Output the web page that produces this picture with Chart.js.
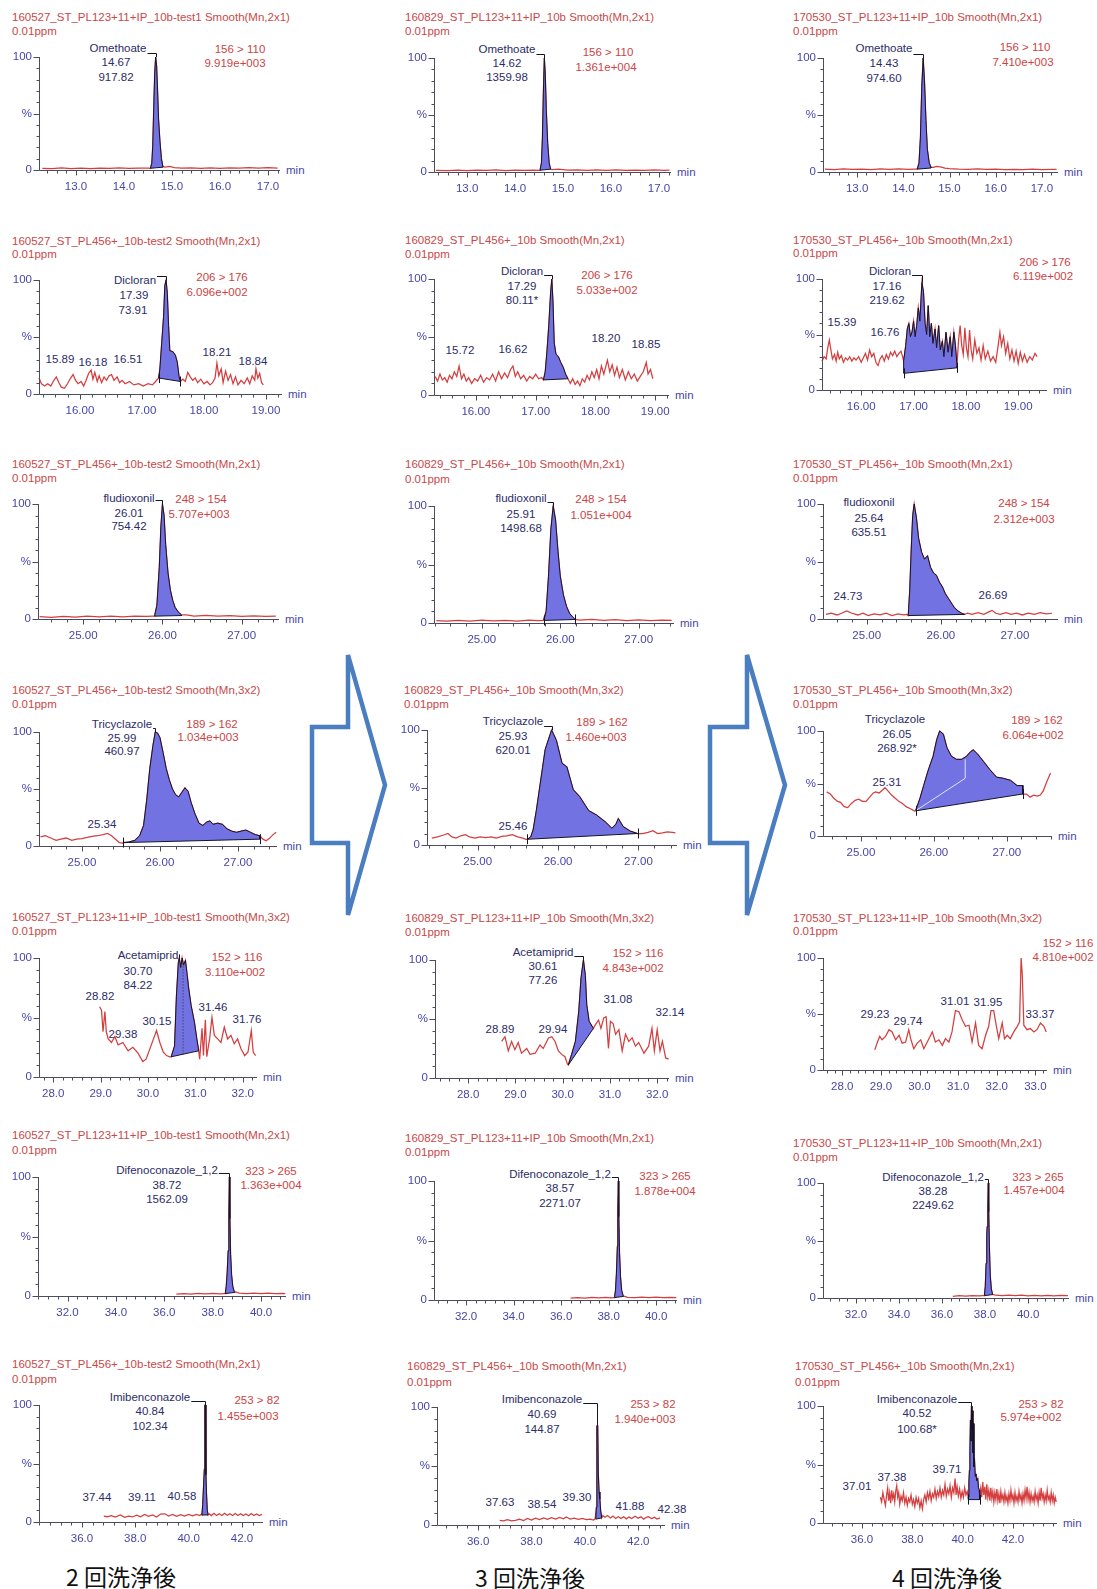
<!DOCTYPE html>
<html><head><meta charset="utf-8">
<script src="https://cdn.jsdelivr.net/npm/chart.js@4/dist/chart.umd.min.js"></script>
<style>
body{margin:0;background:#fff;width:1097px;height:1589px;position:relative;overflow:hidden;font-family:"Liberation Sans",Arial,sans-serif;}
.t{position:absolute;white-space:nowrap;font-size:11.5px;line-height:1;}
.title{color:#c94848;transform:translateY(-50%);}
.ann{color:#2c2c66;transform:translate(-50%,-50%);}
.red{color:#cc4444;transform:translate(-50%,-50%);}
.min{color:#4646a6;transform:translateY(-50%);}
canvas{position:absolute;}
.jp{position:absolute;font-family:"Noto Sans CJK JP",sans-serif;font-size:23px;color:#111;transform:translate(-50%,-50%);white-space:nowrap;line-height:1;}
svg{position:absolute;left:0;top:0;}
</style></head><body>
<svg width="1097" height="1589">
<polygon points="312,727 348,727 348,655 385,785 348,915 348,843 312,843" fill="#fff" stroke="#4a7ec1" stroke-width="4.5" stroke-linejoin="miter"/>
<polygon points="710,727 747,727 747,655 785,785 747,915 747,843 710,843" fill="#fff" stroke="#4a7ec1" stroke-width="4.5" stroke-linejoin="miter"/>
</svg>
<script>
// ---------- DATA (time in min, intensity in %) ----------
const r1c1Pre = [[12.3,1.5],[12.5,1.2],[12.7,1.8],[12.9,1.3],[13.1,1.6],[13.3,1.2],[13.5,1.7],[13.7,1.4],[13.9,1.8],[14.1,1.5],[14.3,1.7],[14.5,1.6]];
const r1c1Curve = [[14.55,1.5],[14.58,6],[14.6,22],[14.62,55],[14.64,85],[14.66,100],[14.68,92],[14.7,70],[14.72,45],[14.75,25],[14.78,10],[14.81,3]];
const r1c1Base = [[14.55,1.5],[14.81,2.5]];
const r1c1Post = [[14.86,2.5],[14.95,3.2],[15.05,2.2],[15.2,1.6],[15.4,1.9],[15.6,1.4],[15.8,1.8],[16.0,1.5],[16.2,1.9],[16.4,1.6],[16.6,2.2],[16.8,1.7],[17.0,2.0],[17.2,1.6]];

const r1c2Pre = [[12.35,1.5],[12.6,1.2],[12.8,1.6],[13.0,1.3],[13.2,1.7],[13.4,1.4],[13.6,1.8],[13.8,1.3],[14.0,1.6],[14.2,1.4],[14.4,1.7],[14.48,1.5]];
const r1c2Curve = [[14.52,1.5],[14.55,8],[14.57,30],[14.59,70],[14.61,100],[14.63,85],[14.65,55],[14.68,25],[14.71,8],[14.74,2.5]];
const r1c2Base = [[14.52,1.5],[14.74,2.5]];
const r1c2Post = [[14.78,2],[14.9,2.5],[15.1,1.6],[15.3,1.9],[15.5,1.4],[15.7,1.8],[15.9,1.5],[16.1,1.9],[16.3,1.4],[16.5,1.7],[16.7,1.5],[16.9,1.8],[17.1,1.5],[17.22,1.7]];

const r1c3Pre = [[12.3,2.5],[12.5,2],[12.7,2.8],[12.9,2.2],[13.1,2.6],[13.3,2.1],[13.5,2.7],[13.7,2.3],[13.9,2.8],[14.1,2.4],[14.25,2.6]];
const r1c3Curve = [[14.3,2.5],[14.34,8],[14.37,30],[14.4,75],[14.43,100],[14.46,78],[14.49,45],[14.52,20],[14.56,8],[14.6,4]];
const r1c3Base = [[14.3,2.5],[14.6,3.5]];
const r1c3Post = [[14.65,4],[14.72,5],[14.8,4.5],[14.9,3.5],[15.0,3],[15.2,2.5],[15.4,2.2],[15.6,2.7],[15.8,2.2],[16.0,2.5],[16.2,2],[16.4,2.4],[16.6,2.1],[16.8,2.5],[17.0,2.1],[17.2,2.4],[17.32,2.2]];

const r2c1Pre = [[15.34,14],[15.38,9],[15.43,7],[15.48,9],[15.53,7],[15.58,12],[15.62,15],[15.66,10],[15.7,6],[15.75,5],[15.8,9],[15.85,14],[15.89,17],[15.93,12],[15.97,9],[16.02,11],[16.06,7],[16.1,12],[16.14,18],[16.18,21],[16.21,13],[16.24,19],[16.28,11],[16.31,16],[16.35,10],[16.39,15],[16.43,12],[16.47,16],[16.51,17],[16.55,12],[16.6,15],[16.64,10],[16.68,12],[16.73,9],[16.8,11],[16.87,8],[16.95,9],[17.02,7],[17.1,9],[17.17,8],[17.22,11]];
const r2c1Curve = [[17.27,14],[17.29,22],[17.32,45],[17.35,68],[17.37,95],[17.39,100],[17.41,88],[17.43,60],[17.45,38],[17.5,37],[17.54,34],[17.57,28],[17.6,15],[17.62,11]];
const r2c1Base = [[17.27,14],[17.62,11]];
const r2c1Post = [[17.66,13],[17.7,11],[17.74,19],[17.78,15],[17.82,12],[17.86,14],[17.9,10],[17.95,13],[18.0,9],[18.05,11],[18.1,8],[18.14,10],[18.18,14],[18.21,27],[18.24,16],[18.28,22],[18.31,10],[18.35,20],[18.39,12],[18.43,17],[18.47,9],[18.51,15],[18.55,8],[18.6,12],[18.65,9],[18.7,14],[18.74,9],[18.78,16],[18.82,12],[18.84,22],[18.87,14],[18.9,18],[18.93,10],[18.96,8]];

const r2c2Pre = [[15.32,16],[15.36,12],[15.4,18],[15.44,13],[15.48,15],[15.52,11],[15.56,17],[15.6,14],[15.64,20],[15.68,16],[15.72,25],[15.76,14],[15.8,18],[15.84,12],[15.88,15],[15.93,10],[15.98,14],[16.03,12],[16.08,17],[16.13,11],[16.18,15],[16.23,13],[16.28,18],[16.33,12],[16.38,20],[16.43,14],[16.48,19],[16.53,15],[16.58,22],[16.62,25],[16.66,16],[16.7,20],[16.75,14],[16.8,17],[16.85,12],[16.9,16],[16.95,14],[17.0,18],[17.05,14],[17.1,15]];
const r2c2Curve = [[17.13,13],[17.16,20],[17.19,38],[17.22,60],[17.25,88],[17.27,100],[17.29,80],[17.31,45],[17.34,35],[17.38,33],[17.42,28],[17.46,24],[17.5,18],[17.54,14]];
const r2c2Base = [[17.13,13],[17.54,14]];
const r2c2Post = [[17.58,10],[17.62,14],[17.66,9],[17.7,12],[17.74,8],[17.78,14],[17.82,11],[17.86,17],[17.9,13],[17.94,20],[17.98,15],[18.02,22],[18.06,14],[18.1,25],[18.14,18],[18.2,30],[18.24,20],[18.28,26],[18.32,17],[18.36,24],[18.4,15],[18.45,22],[18.5,13],[18.55,20],[18.6,14],[18.65,18],[18.7,12],[18.75,16],[18.8,20],[18.85,28],[18.88,18],[18.92,22],[18.96,14]];

const r2c3Pre = [[15.25,26],[15.29,30],[15.33,28],[15.36,38],[15.39,45],[15.42,36],[15.45,28],[15.49,32],[15.52,26],[15.55,34],[15.58,28],[15.62,31],[15.66,25],[15.7,29],[15.74,27],[15.78,30],[15.82,26],[15.86,29],[15.9,27],[15.95,30],[16.0,25],[16.04,29],[16.08,33],[16.12,27],[16.16,36],[16.2,30],[16.24,33],[16.28,25],[16.32,22],[16.36,28],[16.4,31],[16.44,26],[16.48,32],[16.52,28],[16.56,34],[16.6,31],[16.64,35],[16.68,30],[16.72,33],[16.76,35],[16.79,30]];
const r2c3Curve = [[16.81,26],[16.85,40],[16.88,55],[16.91,60],[16.94,48],[16.97,52],[17.0,62],[17.03,48],[17.06,58],[17.09,74],[17.12,62],[17.16,97],[17.19,88],[17.22,60],[17.25,50],[17.28,76],[17.31,48],[17.34,60],[17.37,42],[17.41,55],[17.44,38],[17.48,58],[17.51,36],[17.55,44],[17.58,30],[17.62,52],[17.66,34],[17.7,48],[17.73,30],[17.77,52],[17.8,40],[17.83,22]];
const r2c3Base = [[16.81,15],[17.83,20]];
const r2c3Post = [[17.86,45],[17.89,58],[17.92,40],[17.95,32],[17.98,56],[18.01,38],[18.04,30],[18.07,54],[18.1,36],[18.13,28],[18.17,45],[18.21,33],[18.25,38],[18.29,27],[18.33,40],[18.37,28],[18.42,35],[18.47,26],[18.52,30],[18.57,25],[18.61,38],[18.65,52],[18.68,40],[18.72,48],[18.76,33],[18.8,42],[18.84,28],[18.88,36],[18.92,26],[18.96,35],[19.0,24],[19.04,34],[19.08,26],[19.12,32],[19.17,25],[19.22,30],[19.27,27],[19.32,33],[19.36,30]];

const r3c1Pre = [[24.45,2],[24.6,1.5],[24.75,2.2],[24.9,1.6],[25.05,2.4],[25.2,1.8],[25.35,2.5],[25.5,1.9],[25.65,2.6],[25.8,2.2],[25.88,2.5]];
const r3c1Curve = [[25.9,2.5],[25.93,12],[25.96,45],[25.98,80],[26.0,100],[26.02,90],[26.04,65],[26.07,40],[26.1,25],[26.13,16],[26.16,10],[26.2,6],[26.24,3.5]];
const r3c1Base = [[25.9,2.5],[26.24,3]];
const r3c1Post = [[26.3,3.5],[26.4,2.6],[26.55,3.2],[26.7,2.4],[26.85,3.0],[27.0,2.3],[27.15,2.8],[27.3,2.2],[27.43,2.6]];

const r3c2Pre = [[24.42,2],[24.55,1.6],[24.7,2.3],[24.85,1.7],[25.0,2.4],[25.15,1.8],[25.3,2.2],[25.45,1.7],[25.6,2.4],[25.72,2.0],[25.78,2.2]];
const r3c2Curve = [[25.79,2.2],[25.82,10],[25.85,40],[25.88,80],[25.91,100],[25.94,88],[25.97,62],[26.0,40],[26.04,24],[26.08,14],[26.12,8],[26.16,5],[26.19,3]];
const r3c2Base = [[25.79,2.2],[26.19,3]];
const r3c2Post = [[26.25,2.4],[26.4,3.0],[26.55,2.2],[26.7,2.8],[26.85,2.1],[27.0,2.6],[27.15,2.0],[27.3,2.5],[27.42,2.2]];

const r3c3Pre = [[24.45,4],[24.52,5],[24.6,3.5],[24.66,5],[24.73,7],[24.8,5],[24.88,3.5],[24.95,5],[25.02,3],[25.1,4.5],[25.18,3.5],[25.26,5],[25.34,3],[25.42,4.5],[25.5,3.5],[25.54,4]];
const r3c3Curve = [[25.56,3],[25.58,25],[25.6,60],[25.62,90],[25.64,100],[25.67,88],[25.7,70],[25.74,58],[25.78,52],[25.82,55],[25.86,45],[25.9,40],[25.94,38],[25.98,32],[26.02,28],[26.06,22],[26.1,18],[26.14,14],[26.18,10],[26.23,7],[26.28,5],[26.32,4]];
const r3c3Base = [[25.56,3],[26.32,4]];
const r3c3Post = [[26.36,5],[26.42,4],[26.5,5.5],[26.58,4],[26.64,6],[26.69,7.5],[26.74,5],[26.8,4],[26.88,5.5],[26.95,4],[27.02,5],[27.1,3.5],[27.18,5],[27.26,4],[27.34,5.5],[27.42,4.5],[27.5,5]];

const r4c1Pre = [[24.47,8],[24.53,9],[24.6,7],[24.67,5],[24.73,6],[24.8,7],[24.87,5],[24.93,6],[25.0,6.5],[25.07,7.5],[25.13,8.5],[25.2,9],[25.27,10],[25.33,11],[25.38,9],[25.43,6],[25.48,3],[25.52,2.5]];
const r4c1Curve = [[25.53,3],[25.6,3.5],[25.68,5],[25.74,9],[25.79,18],[25.83,40],[25.87,68],[25.91,88],[25.94,100],[25.97,99],[26.0,95],[26.04,82],[26.08,68],[26.12,58],[26.16,50],[26.2,45],[26.24,43],[26.28,47],[26.32,51],[26.36,48],[26.4,38],[26.45,28],[26.5,20],[26.55,18],[26.6,21],[26.64,22],[26.68,19],[26.74,20],[26.8,19],[26.86,15],[26.92,13],[26.98,12],[27.04,13],[27.1,14],[27.16,12],[27.22,10],[27.28,9]];
const r4c1Base = [[25.53,3],[27.28,6]];
const r4c1Post = [[27.32,6],[27.36,4.5],[27.4,6.5],[27.45,10],[27.49,12]];

const r4c2Pre = [[24.43,6],[24.5,7],[24.57,8.5],[24.63,10],[24.68,7],[24.73,6],[24.79,8],[24.85,9],[24.9,7],[24.97,6],[25.03,7],[25.1,6.5],[25.17,7],[25.23,6],[25.3,7.5],[25.36,8],[25.43,9],[25.5,7],[25.56,6],[25.6,5]];
const r4c2Curve = [[25.62,5],[25.66,7],[25.69,13],[25.73,30],[25.78,54],[25.84,83],[25.92,100],[25.98,91],[26.05,71],[26.11,68],[26.19,48],[26.27,42],[26.38,30],[26.48,26],[26.59,20],[26.67,14.5],[26.72,18],[26.75,23],[26.81,16],[26.9,12],[26.99,10]];
const r4c2Base = [[25.62,5],[26.99,10]];
const r4c2Post = [[27.05,10],[27.12,11],[27.18,12.5],[27.24,10],[27.3,10.5],[27.36,11.5],[27.42,11],[27.46,10.5]];

const r4c3Pre = [[24.53,42],[24.58,40],[24.63,36],[24.68,33],[24.72,32],[24.77,28],[24.82,27],[24.87,31],[24.92,34],[24.97,35],[25.02,33],[25.07,33],[25.12,37],[25.17,41],[25.2,42],[25.25,41],[25.3,44],[25.33,46],[25.37,43],[25.42,39],[25.47,36],[25.52,33],[25.57,31],[25.62,28],[25.68,26],[25.73,24]];
const r4c3Curve = [[25.75,24],[25.81,36],[25.86,48],[25.92,62],[25.99,76],[26.04,92],[26.08,100],[26.13,97],[26.18,84],[26.24,76],[26.31,73],[26.38,73],[26.45,76],[26.5,80],[26.54,82],[26.6,78],[26.68,71],[26.77,63],[26.86,56],[26.95,55],[27.05,53],[27.14,48],[27.22,48]];
const r4c3Base = [[25.75,24],[27.22,40]];
const r4c3Post = [[27.22,40],[27.27,40],[27.32,37],[27.37,39],[27.42,38],[27.46,39],[27.5,43],[27.55,52],[27.6,60]];
const r4c3Split = [[25.75,24],[26.43,55],[26.43,73]];

const r5c1Pre = [[28.98,59],[29.02,56],[29.05,38],[29.09,55],[29.12,38],[29.16,32],[29.23,29],[29.3,34],[29.37,27],[29.47,29],[29.58,22],[29.68,25],[29.79,20],[29.89,13],[29.96,15],[30.07,27],[30.18,39],[30.25,29],[30.32,21],[30.39,18],[30.46,17]];
const r5c1Curve = [[30.49,17],[30.56,26],[30.6,68],[30.64,96],[30.66,100],[30.69,92],[30.72,100],[30.75,94],[30.79,98],[30.82,88],[30.86,74],[30.91,60],[30.98,46],[31.03,32],[31.07,22]];
const r5c1Base = [[30.49,17],[31.07,22]];
const r5c1Post = [[31.09,15],[31.14,41],[31.17,18],[31.21,48],[31.24,17],[31.3,32],[31.35,50],[31.4,35],[31.47,32],[31.54,29],[31.61,42],[31.68,32],[31.75,35],[31.82,28],[31.89,32],[31.96,24],[32.04,18],[32.11,21],[32.18,39],[32.22,21],[32.27,18]];
const r5c1Split = [[30.74,19],[30.74,97]];

const r5c2Pre = [[28.71,31],[28.78,35],[28.85,23],[28.92,31],[28.99,24],[29.06,30],[29.13,21],[29.24,25],[29.31,20],[29.42,21],[29.52,28],[29.59,25],[29.7,34],[29.77,35],[29.84,31],[29.91,23],[29.98,20],[30.05,18],[30.1,12]];
const r5c2Curve = [[30.12,11],[30.19,20],[30.27,31],[30.34,56],[30.39,85],[30.44,100],[30.48,87],[30.51,62],[30.56,48],[30.62,44],[30.65,42]];
const r5c2Base = [[30.12,11],[30.65,42]];
const r5c2Post = [[30.69,45],[30.76,49],[30.81,42],[30.87,51],[30.92,52],[30.97,25],[31.01,48],[31.07,46],[31.12,37],[31.19,41],[31.26,23],[31.33,37],[31.4,31],[31.47,34],[31.54,27],[31.61,30],[31.72,21],[31.82,27],[31.89,42],[31.94,23],[32.0,41],[32.06,23],[32.11,31],[32.18,17],[32.24,16]];

const r5c3Trace = [[28.84,18],[28.91,25],[28.97,30],[29.03,27],[29.12,30],[29.21,36],[29.29,34],[29.38,27],[29.47,31],[29.55,24],[29.64,25],[29.72,36],[29.77,28],[29.85,19],[29.94,24],[30.03,27],[30.11,19],[30.2,25],[30.33,34],[30.41,25],[30.5,27],[30.59,22],[30.67,28],[30.76,25],[30.84,34],[30.93,53],[31.02,52],[31.1,45],[31.19,39],[31.28,40],[31.36,25],[31.45,42],[31.53,22],[31.62,19],[31.71,31],[31.79,39],[31.85,53],[31.92,53],[31.99,39],[32.05,28],[32.14,42],[32.2,28],[32.27,31],[32.35,28],[32.44,34],[32.53,39],[32.59,43],[32.63,100],[32.66,85],[32.7,40],[32.78,36],[32.87,37],[32.96,34],[33.04,36],[33.13,42],[33.22,39],[33.28,34]];

const r6c1Pre = [[36.5,1.5],[36.8,2],[37.1,1.6],[37.4,2.1],[37.7,1.7],[38.0,2.2],[38.3,1.8],[38.48,2]];
const r6c1Curve = [[38.52,2],[38.56,8],[38.6,20],[38.64,38],[38.67,70],[38.69,100],[38.71,65],[38.74,35],[38.78,18],[38.83,8],[38.9,3]];
const r6c1Base = [[38.52,2],[38.9,3]];
const r6c1Post = [[38.95,3.5],[39.1,2.4],[39.4,2],[39.7,2.5],[40.0,2],[40.3,2.4],[40.6,1.9],[40.9,2.3],[41.0,2]];

const r6c2Pre = [[36.4,1.5],[36.7,2],[37.0,1.6],[37.3,2.1],[37.6,1.7],[37.9,2.2],[38.1,1.8],[38.22,2]];
const r6c2Curve = [[38.25,2],[38.29,8],[38.33,22],[38.37,45],[38.39,75],[38.41,100],[38.43,70],[38.46,40],[38.5,20],[38.55,8],[38.62,3]];
const r6c2Base = [[38.25,2],[38.62,3]];
const r6c2Post = [[38.68,3],[38.8,2.3],[39.1,2],[39.4,2.5],[39.7,2],[40.0,2.4],[40.3,1.9],[40.6,2.3],[40.85,2]];

const r6c3Pre = [[36.5,1.5],[36.8,2],[37.1,1.6],[37.4,2.1],[37.7,1.8],[37.9,2.1],[37.94,2]];
const r6c3Curve = [[37.97,2],[38.01,10],[38.05,30],[38.08,55],[38.1,62],[38.13,80],[38.15,100],[38.17,75],[38.2,45],[38.24,20],[38.29,8],[38.35,3]];
const r6c3Base = [[37.97,2],[38.35,3]];
const r6c3Post = [[38.4,3],[38.5,2.4],[38.8,2],[39.1,2.5],[39.4,2],[39.7,2.4],[40.0,1.9],[40.3,2.3],[40.6,1.8],[40.9,2.3],[41.2,1.9],[41.5,2.2],[41.85,2]];

const r7c1Pre = [[36.82,5],[36.95,4.5],[37.1,5.5],[37.25,4.2],[37.44,6],[37.6,4],[37.75,5],[37.9,4.3],[38.05,5.8],[38.2,4.5],[38.35,6.5],[38.5,4.8],[38.65,6],[38.8,4.2],[38.95,6.8],[39.11,7],[39.25,5],[39.4,6.5],[39.55,4.8],[39.7,6.2],[39.85,5],[40.0,6.5],[40.15,5.2],[40.3,6.5],[40.42,5.5],[40.47,6.5]];
const r7c1Curve = [[40.5,6],[40.53,15],[40.56,30],[40.59,45],[40.61,100],[40.63,100],[40.65,40],[40.67,25],[40.7,10],[40.73,6]];
const r7c1Base = [[40.5,6],[40.73,6]];
const r7c1Post = [[40.78,7],[40.85,5.5],[40.95,7.5],[41.05,5.5],[41.15,7],[41.25,5.5],[41.35,7.5],[41.45,5.8],[41.55,7],[41.65,5.5],[41.75,7.2],[41.85,5.6],[41.95,7],[42.05,5.5],[42.15,6.8],[42.25,5.4],[42.35,7.2],[42.45,5.6],[42.55,6.8],[42.65,5.5],[42.75,6.5]];

const r7c2Pre = [[36.81,4],[36.95,3.5],[37.1,4.5],[37.25,3.5],[37.4,4],[37.55,5],[37.7,3.8],[37.85,5.5],[38.0,4.2],[38.15,5.8],[38.3,4.5],[38.45,6],[38.6,4.8],[38.75,6.2],[38.9,5],[39.05,6.5],[39.2,5.2],[39.3,6.8],[39.45,5],[39.6,5.8],[39.75,4.8],[39.9,5.5],[40.05,4.5],[40.2,5],[40.32,4.2],[40.38,5]];
const r7c2Curve = [[40.41,5],[40.43,15],[40.45,84],[40.48,84],[40.5,45],[40.53,28],[40.56,22],[40.59,12],[40.63,6]];
const r7c2Base = [[40.41,5],[40.63,6]];
const r7c2Post = [[40.67,8],[40.75,6.5],[40.85,8],[40.95,6],[41.05,7.5],[41.15,5.5],[41.25,7],[41.35,5.5],[41.45,7],[41.55,5.2],[41.65,6.8],[41.75,5.5],[41.88,7.5],[42.0,5.8],[42.1,7],[42.2,5],[42.3,6.5],[42.38,7],[42.5,5.5],[42.6,6.5],[42.7,5],[42.81,6]];

const r7c3Pre = [[36.73,22],[36.78,18],[36.83,26],[36.88,20],[36.93,15],[36.98,24],[37.02,30],[37.06,19],[37.1,26],[37.14,17],[37.18,28],[37.22,21],[37.26,25],[37.3,18],[37.34,27],[37.38,32],[37.42,22],[37.46,26],[37.5,16],[37.55,23],[37.6,19],[37.65,26],[37.7,17],[37.75,22],[37.8,15],[37.85,21],[37.9,18],[37.95,24],[38.0,16],[38.05,20],[38.1,14],[38.15,22],[38.2,17],[38.25,21],[38.3,13],[38.35,19],[38.4,12],[38.45,20],[38.5,24],[38.55,18],[38.6,26],[38.65,21],[38.7,27],[38.75,19],[38.8,25],[38.85,22],[38.9,29],[38.95,21],[39.0,27],[39.05,23],[39.1,30],[39.15,22],[39.2,28],[39.25,24],[39.3,33],[39.35,23],[39.4,29],[39.45,25],[39.5,32],[39.55,22],[39.6,30],[39.65,26],[39.7,38],[39.74,24],[39.78,31],[39.83,23],[39.88,29],[39.93,21],[39.98,27],[40.03,22],[40.08,30],[40.13,24],[40.18,27]];
const r7c3Curve = [[40.22,22],[40.25,35],[40.27,45],[40.29,62],[40.31,88],[40.33,70],[40.35,100],[40.37,80],[40.39,96],[40.41,60],[40.43,85],[40.45,48],[40.47,55],[40.5,40],[40.53,42],[40.56,36],[40.6,38],[40.63,30],[40.66,28],[40.68,24]];
const r7c3Base = [[40.22,20],[40.68,20]];
const r7c3Post = [[40.72,30],[40.76,22],[40.8,35],[40.84,24],[40.88,31],[40.92,20],[40.96,33],[41.0,22],[41.04,28],[41.08,19],[41.12,30],[41.16,21],[41.2,27],[41.24,18],[41.28,26],[41.32,20],[41.36,29],[41.4,19],[41.44,25],[41.48,17],[41.52,27],[41.56,20],[41.6,24],[41.64,18],[41.68,26],[41.72,19],[41.76,23],[41.8,17],[41.84,25],[41.88,19],[41.92,28],[41.96,20],[42.0,24],[42.04,17],[42.08,26],[42.12,19],[42.16,23],[42.2,18],[42.24,27],[42.28,20],[42.32,24],[42.36,17],[42.4,25],[42.44,19],[42.48,28],[42.52,21],[42.56,31],[42.6,20],[42.64,26],[42.68,18],[42.72,25],[42.76,19],[42.8,23],[42.84,18],[42.88,27],[42.92,20],[42.96,24],[43.0,17],[43.04,26],[43.08,19],[43.12,30],[43.16,21],[43.2,25],[43.24,18],[43.28,24],[43.32,19],[43.36,28],[43.4,20],[43.44,23],[43.48,18],[43.52,26],[43.56,19],[43.6,24],[43.64,17],[43.68,22],[43.72,18]];

const bottomLabels = ['2 回洗浄後','3 回洗浄後','4 回洗浄後'];

// ---------- LAYOUT ----------
const panels = [
 {pre:r1c1Pre,curve:r1c1Curve,base:r1c1Base,post:r1c1Post,ax:39,top:57,bot:170,right:280,tMin:12.23,tMax:17.25,step:0.2,major:1,dec:1,
  title:'160527_ST_PL123+11+IP_10b-test1 Smooth(Mn,2x1)',tx:12,ty:18,py:32,lead:true,
  ann:[['Omethoate',118,49],['14.67',116,63],['917.82',116,78]],red:[['156 > 110',240,50],['9.919e+003',235,64]]},
 {pre:r1c2Pre,curve:r1c2Curve,base:r1c2Base,post:r1c2Post,ax:434,top:58,bot:172,right:671,tMin:12.31,tMax:17.25,step:0.2,major:1,dec:1,
  title:'160829_ST_PL123+11+IP_10b Smooth(Mn,2x1)',tx:405,ty:18,py:32,lead:true,
  ann:[['Omethoate',507,50],['14.62',507,64],['1359.98',507,78]],red:[['156 > 110',608,53],['1.361e+004',606,68]]},
 {pre:r1c3Pre,curve:r1c3Curve,base:r1c3Base,post:r1c3Post,ax:823,top:58,bot:172,right:1058,tMin:12.26,tMax:17.35,step:0.2,major:1,dec:1,
  title:'170530_ST_PL123+11+IP_10b Smooth(Mn,2x1)',tx:793,ty:18,py:32,lead:true,
  ann:[['Omethoate',884,49],['14.43',884,64],['974.60',884,79]],red:[['156 > 110',1025,48],['7.410e+003',1023,63]]},

 {pre:r2c1Pre,curve:r2c1Curve,base:r2c1Base,post:r2c1Post,ax:39,top:280,bot:394,right:282,tMin:15.34,tMax:19.26,step:0.2,major:1,dec:2,
  title:'160527_ST_PL456+_10b-test2 Smooth(Mn,2x1)',tx:12,ty:242,py:255,lead:true,ticks:true,
  ann:[['Dicloran',135,281],['17.39',134,296],['73.91',133,311],['15.89',60,360],['16.18',93,363],['16.51',128,360],['18.21',217,353],['18.84',253,362]],
  red:[['206 > 176',222,278],['6.096e+002',217,293]]},
 {pre:r2c2Pre,curve:r2c2Curve,base:r2c2Base,post:r2c2Post,ax:434,top:279,bot:395,right:669,tMin:15.3,tMax:19.23,step:0.2,major:1,dec:2,
  title:'160829_ST_PL456+_10b Smooth(Mn,2x1)',tx:405,ty:241,py:255,lead:true,
  ann:[['Dicloran',522,272],['17.29',522,287],['80.11*',522,301],['15.72',460,351],['16.62',513,350],['18.20',606,339],['18.85',646,345]],
  red:[['206 > 176',607,276],['5.033e+002',607,291]]},
 {pre:r2c3Pre,curve:r2c3Curve,base:r2c3Base,post:r2c3Post,ax:822,top:279,bot:390,right:1047,tMin:15.25,tMax:19.55,step:0.2,major:1,dec:2,
  title:'170530_ST_PL456+_10b Smooth(Mn,2x1)',tx:793,ty:241,py:254,lead:true,ticks:true,
  ann:[['Dicloran',890,272],['17.16',887,287],['219.62',887,301],['15.39',842,323],['16.76',885,333]],
  red:[['206 > 176',1045,263],['6.119e+002',1043,277]]},

 {pre:r3c1Pre,curve:r3c1Curve,base:r3c1Base,post:r3c1Post,ax:38,top:504,bot:619,right:279,tMin:24.43,tMax:27.47,step:0.2,major:1,dec:2,
  title:'160527_ST_PL456+_10b-test2 Smooth(Mn,2x1)',tx:12,ty:465,py:479,lead:true,
  ann:[['fludioxonil',129,499],['26.01',129,514],['754.42',129,527]],red:[['248 > 154',201,500],['5.707e+003',199,515]]},
 {pre:r3c2Pre,curve:r3c2Curve,base:r3c2Base,post:r3c2Post,ax:434,top:506,bot:623,right:674,tMin:24.39,tMax:27.45,step:0.2,major:1,dec:2,
  title:'160829_ST_PL456+_10b Smooth(Mn,2x1)',tx:405,ty:465,py:480,lead:true,ticks:true,
  ann:[['fludioxonil',521,499],['25.91',521,515],['1498.68',521,529]],red:[['248 > 154',601,500],['1.051e+004',601,516]]},
 {pre:r3c3Pre,curve:r3c3Curve,base:r3c3Base,post:r3c3Post,ax:823,top:504,bot:619,right:1058,tMin:24.41,tMax:27.58,step:0.2,major:1,dec:2,
  title:'170530_ST_PL456+_10b Smooth(Mn,2x1)',tx:793,ty:465,py:479,
  ann:[['fludioxonil',869,503],['25.64',869,519],['635.51',869,533],['24.73',848,597],['26.69',993,596]],
  red:[['248 > 154',1024,504],['2.312e+003',1024,520]]},

 {pre:r4c1Pre,curve:r4c1Curve,base:r4c1Base,post:r4c1Post,ax:39,top:732,bot:846,right:277,tMin:24.45,tMax:27.5,step:0.2,major:1,dec:2,
  title:'160527_ST_PL456+_10b-test2 Smooth(Mn,3x2)',tx:12,ty:691,py:705,lead:true,ticks:true,
  ann:[['Tricyclazole',122,725],['25.99',122,739],['460.97',122,752],['25.34',102,825]],red:[['189 > 162',212,725],['1.034e+003',208,738]]},
 {pre:r4c2Pre,curve:r4c2Curve,base:r4c2Base,post:r4c2Post,ax:427,top:730,bot:845,right:677,tMin:24.37,tMax:27.48,step:0.2,major:1,dec:2,
  title:'160829_ST_PL456+_10b Smooth(Mn,3x2)',tx:404,ty:691,py:705,lead:true,ticks:true,
  ann:[['Tricyclazole',513,722],['25.93',513,737],['620.01',513,751],['25.46',513,827]],red:[['189 > 162',602,723],['1.460e+003',596,738]]},
 {pre:r4c3Pre,curve:r4c3Curve,base:r4c3Base,post:r4c3Post,split:r4c3Split,ax:823,top:731,bot:836,right:1052,tMin:24.48,tMax:27.62,step:0.2,major:1,dec:2,
  title:'170530_ST_PL456+_10b Smooth(Mn,3x2)',tx:793,ty:691,py:705,ticks:true,
  ann:[['Tricyclazole',895,720],['26.05',897,735],['268.92*',897,749],['25.31',887,783]],red:[['189 > 162',1037,721],['6.064e+002',1033,736]]},

 {pre:r5c1Pre,curve:r5c1Curve,base:r5c1Base,post:r5c1Post,split:r5c1Split,splitDash:[1,2],splitColor:'#333',ax:39,top:958,bot:1077,right:257,tMin:27.7,tMax:32.3,step:0.2,major:1,dec:1,
  title:'160527_ST_PL123+11+IP_10b-test1 Smooth(Mn,3x2)',tx:12,ty:918,py:932,lead:true,
  ann:[['Acetamiprid',148,956],['30.70',138,972],['84.22',138,986],['28.82',100,997],['29.38',123,1035],['30.15',157,1022],['31.46',213,1008],['31.76',247,1020]],
  red:[['152 > 116',237,958],['3.110e+002',235,973]]},
 {pre:r5c2Pre,curve:r5c2Curve,base:r5c2Base,post:r5c2Post,ax:435,top:960,bot:1078,right:669,tMin:27.3,tMax:32.25,step:0.2,major:1,dec:1,
  title:'160829_ST_PL123+11+IP_10b Smooth(Mn,3x2)',tx:405,ty:919,py:933,lead:true,
  ann:[['Acetamiprid',543,953],['30.61',543,967],['77.26',543,981],['28.89',500,1030],['29.94',553,1030],['31.08',618,1000],['32.14',670,1013]],
  red:[['152 > 116',638,954],['4.843e+002',633,969]]},
 {pre:r5c3Trace,ax:823,top:958,bot:1070,right:1047,tMin:27.5,tMax:33.3,step:0.2,major:1,dec:1,
  title:'170530_ST_PL123+11+IP_10b Smooth(Mn,3x2)',tx:793,ty:919,py:932,
  ann:[['29.23',875,1015],['29.74',908,1022],['31.01',955,1002],['31.95',988,1003],['33.37',1040,1015]],
  red:[['152 > 116',1068,944],['4.810e+002',1063,958]]},

 {pre:r6c1Pre,curve:r6c1Curve,base:r6c1Base,post:r6c1Post,ax:38,top:1177,bot:1296,right:286,tMin:30.78,tMax:41.03,step:0.4,major:2,dec:1,
  title:'160527_ST_PL123+11+IP_10b-test1 Smooth(Mn,2x1)',tx:12,ty:1136,py:1151,lead:true,
  ann:[['Difenoconazole_1,2',167,1171],['38.72',167,1186],['1562.09',167,1200]],red:[['323 > 265',271,1172],['1.363e+004',271,1186]]},
 {pre:r6c2Pre,curve:r6c2Curve,base:r6c2Base,post:r6c2Post,ax:434,top:1181,bot:1300,right:677,tMin:30.65,tMax:40.88,step:0.4,major:2,dec:1,
  title:'160829_ST_PL123+11+IP_10b Smooth(Mn,2x1)',tx:405,ty:1139,py:1153,lead:true,
  ann:[['Difenoconazole_1,2',560,1175],['38.57',560,1189],['2271.07',560,1204]],red:[['323 > 265',665,1177],['1.878e+004',665,1192]]},
 {pre:r6c3Pre,curve:r6c3Curve,base:r6c3Base,post:r6c3Post,ax:823,top:1183,bot:1298,right:1069,tMin:30.47,tMax:41.9,step:0.4,major:2,dec:1,
  title:'170530_ST_PL123+11+IP_10b Smooth(Mn,2x1)',tx:793,ty:1144,py:1158,lead:true,
  ann:[['Difenoconazole_1,2',933,1178],['38.28',933,1192],['2249.62',933,1206]],red:[['323 > 265',1038,1178],['1.457e+004',1034,1191]]},

 {pre:r7c1Pre,curve:r7c1Curve,base:r7c1Base,post:r7c1Post,ax:39,top:1405,bot:1522,right:263,tMin:34.39,tMax:42.79,step:0.4,major:2,dec:1,
  title:'160527_ST_PL456+_10b-test2 Smooth(Mn,2x1)',tx:12,ty:1365,py:1380,lead:true,
  ann:[['Imibenconazole',150,1398],['40.84',150,1412],['102.34',150,1427],['37.44',97,1498],['39.11',142,1498],['40.58',182,1497]],
  red:[['253 > 82',257,1401],['1.455e+003',248,1417]]},
 {pre:r7c2Pre,curve:r7c2Curve,base:r7c2Base,post:r7c2Post,ax:437,top:1407,bot:1525,right:665,tMin:34.46,tMax:43.0,step:0.4,major:2,dec:1,
  title:'160829_ST_PL456+_10b Smooth(Mn,2x1)',tx:407,ty:1367,py:1383,lead:true,
  ann:[['Imibenconazole',542,1400],['40.69',542,1415],['144.87',542,1430],['37.63',500,1503],['38.54',542,1505],['39.30',577,1498],['41.88',630,1507],['42.38',672,1510]],
  red:[['253 > 82',653,1405],['1.940e+003',645,1420]]},
 {pre:r7c3Pre,curve:r7c3Curve,base:r7c3Base,post:r7c3Post,ax:823,top:1406,bot:1523,right:1057,tMin:34.45,tMax:43.75,step:0.4,major:2,dec:1,
  title:'170530_ST_PL456+_10b Smooth(Mn,2x1)',tx:795,ty:1367,py:1383,lead:true,ticks:true,
  ann:[['Imibenconazole',917,1400],['40.52',917,1414],['100.68*',917,1430],['37.01',857,1487],['37.38',892,1478],['39.71',947,1470]],
  red:[['253 > 82',1041,1405],['5.974e+002',1031,1418]]}
];
const bottomPos = [[121,1576],[530,1577],[947,1577]];

// ---------- RENDER ----------
const PADL = 40, PADT = 8, PADR = 8, PADB = 30;
const AXIS_BLUE = '#4646a6';
Chart.defaults.font.family = '"Liberation Sans", Arial, sans-serif';
Chart.defaults.font.size = 11.5;

function addText(text, x, y, cls) {
  const d = document.createElement('div');
  d.className = 't ' + cls;
  d.textContent = text;
  d.style.left = x + 'px';
  d.style.top = y + 'px';
  document.body.appendChild(d);
  return d;
}
const xy = a => a.map(([x, y]) => ({x, y}));

function makePanel(p) {
  addText(p.title, p.tx, p.ty, 'title');
  addText('0.01ppm', p.tx, p.py, 'title');
  let leadX = null;
  p.ann.forEach((a, i) => {
    const d = addText(a[0], a[1], a[2], 'ann');
    if (i === 0 && p.lead) leadX = d.getBoundingClientRect().right + 1;
  });
  p.red.forEach(a => addText(a[0], a[1], a[2], 'red'));
  addText('min', p.right + 6, p.bot + 1, 'min');

  const cl = p.ax - PADL, ct = p.top - PADT;
  const w = p.right - p.ax + PADL + PADR, h = p.bot - p.top + PADT + PADB;
  const cv = document.createElement('canvas');
  cv.width = w; cv.height = h;
  cv.style.left = cl + 'px'; cv.style.top = ct + 'px';
  cv.style.width = w + 'px'; cv.style.height = h + 'px';
  document.body.appendChild(cv);

  const curve = p.curve || [];
  const trace = [...p.pre, ...curve, ...(p.post || [])];
  const poly = curve.length ? [...curve, p.base[1], p.base[0], curve[0]] : [];

  const xt = [];
  for (let k = Math.ceil(p.tMin / p.step - 1e-9); k * p.step <= p.tMax + 1e-9; k++) xt.push(Math.round(k * p.step * 1e6) / 1e6);
  const isMajor = v => Math.abs(v / p.major - Math.round(v / p.major)) < 1e-6;

  const plug = {
    id: 'chrom',
    afterDatasetsDraw(chart) {
      const {ctx, chartArea: a, scales} = chart;
      const xs = scales.x, ys = scales.y;
      ctx.save();
      ctx.lineWidth = 1;
      ctx.strokeStyle = '#4c4c5c';
      const L = Math.round(a.left) + 0.5, B = Math.round(a.bottom) + 0.5;
      ctx.beginPath();
      ctx.moveTo(L, Math.round(a.top)); ctx.lineTo(L, B); ctx.lineTo(Math.round(a.right), B);
      ys.ticks.forEach(t => { const py = Math.round(ys.getPixelForValue(t.value)) + 0.5; const len = t.label ? 6 : 3; ctx.moveTo(L - len, py); ctx.lineTo(L, py); });
      xs.ticks.forEach(t => { const px = Math.round(xs.getPixelForValue(t.value)) + 0.5; const len = t.label ? 5 : 3; ctx.moveTo(px, B); ctx.lineTo(px, B + len); });
      ctx.stroke();
      ctx.strokeStyle = '#141428';
      if (p.ticks && curve.length) {
        ctx.beginPath();
        p.base.forEach(b => { const bx = Math.round(xs.getPixelForValue(b[0])) + 0.5, by = ys.getPixelForValue(b[1]); ctx.moveTo(bx, by - 5); ctx.lineTo(bx, by + 5); });
        ctx.stroke();
      }
      if (leadX !== null && curve.length) {
        let m = curve[0];
        curve.forEach(q => { if (q[1] > m[1]) m = q; });
        const px = Math.round(xs.getPixelForValue(m[0])) + 0.5, py = ys.getPixelForValue(m[1]);
        const yb = Math.round(a.top) - 3.5;
        ctx.beginPath();
        ctx.moveTo(leadX - cl, yb); ctx.lineTo(px, yb); ctx.lineTo(px, py);
        ctx.stroke();
      }
      ctx.restore();
    }
  };

  new Chart(cv, {
    type: 'line',
    data: {datasets: [
      {data: xy(p.split || []), borderColor: p.splitColor || 'rgba(232,232,255,0.95)', borderDash: p.splitDash || [], borderWidth: 1, pointRadius: 0, fill: false, clip: 4},
      {data: xy(poly), borderColor: '#141428', backgroundColor: '#7272e2', borderWidth: 1, pointRadius: 0, fill: 'shape', clip: 4},
      {data: xy(trace), borderColor: '#d43e3e', borderWidth: 1.25, pointRadius: 0, fill: false, clip: 4}
    ]},
    options: {
      responsive: false, animation: false, devicePixelRatio: 1,
      layout: {padding: {left: 0, top: PADT, right: PADR, bottom: 0}},
      plugins: {legend: {display: false}, tooltip: {enabled: false}},
      scales: {
        x: {type: 'linear', min: p.tMin, max: p.tMax,
          grid: {display: false, drawTicks: false}, border: {display: false},
          afterBuildTicks: s => { s.ticks = xt.map(v => ({value: v})); },
          afterFit: s => { s.height = PADB; s.paddingLeft = 0; s.paddingRight = 0; },
          ticks: {autoSkip: false, maxRotation: 0, minRotation: 0, padding: 10, color: AXIS_BLUE,
            callback: v => isMajor(v) ? v.toFixed(p.dec) : ''}},
        y: {min: 0, max: 100,
          grid: {display: false, drawTicks: false}, border: {display: false},
          afterBuildTicks: s => { s.ticks = [0,10,20,30,40,50,60,70,80,90,100].map(v => ({value: v})); },
          afterFit: s => { s.width = PADL; s.paddingTop = 0; s.paddingBottom = 0; },
          ticks: {autoSkip: false, padding: 7, color: AXIS_BLUE,
            callback: v => v === 100 ? '100' : v === 50 ? '%' : v === 0 ? '0' : ''}}
      }
    },
    plugins: [plug]
  });
}

panels.forEach(makePanel);
bottomLabels.forEach((s, i) => {
  const d = document.createElement('div');
  d.className = 'jp'; d.textContent = s;
  d.style.left = bottomPos[i][0] + 'px'; d.style.top = bottomPos[i][1] + 'px';
  document.body.appendChild(d);
});
</script>
</body></html>
